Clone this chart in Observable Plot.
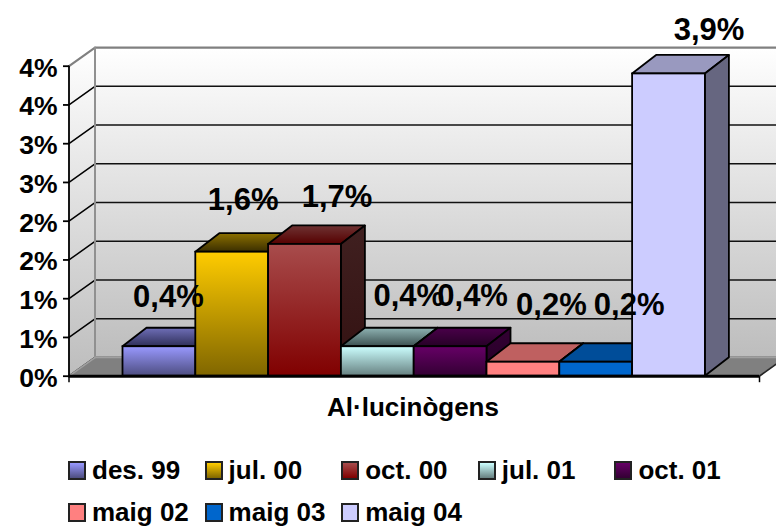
<!DOCTYPE html>
<html><head><meta charset="utf-8">
<script src="https://cdn.jsdelivr.net/npm/d3@7"></script>
<script src="https://cdn.jsdelivr.net/npm/@observablehq/plot@0.6"></script>
<style>
html,body{margin:0;padding:0;background:#fff;overflow:hidden}
#chart svg{display:block}
#legend{display:flex;flex-wrap:wrap;width:708px;padding-left:68px;margin-top:4px;font:bold 26px "Liberation Sans",Arial,sans-serif;color:#000}
.item{width:136.6px;height:42px;display:flex;align-items:center;white-space:nowrap}
.sw{width:14px;height:15px;border:2px solid #222;margin-right:6px;flex:none}
</style></head><body>
<div id="chart"></div><div id="legend"></div>
<script>
const periods = ["des. 99","jul. 00","oct. 00","jul. 01","oct. 01","maig 02","maig 03","maig 04"];
const heights = [0.38,1.6,1.7,0.38,0.38,0.18,0.18,3.9];
const labels = ["0,4%","1,6%","1,7%","0,4%","0,4%","0,2%","0,2%","3,9%"];
const yTicks = [0,0.5,1,1.5,2,2.5,3,3.5,4];
const yTickLabels = ["0%","1%","1%","2%","2%","3%","3%","4%","4%"];
const axisTitle = "Al·lucinògens";

// [front top, front bottom, top face back, top face front, side top, side bottom]
const palette = [
 ["#9999ff","#4d4d80","#6f6fb8","#2f2f58","#33335a","#262644"],
 ["#ffcc00","#806600","#8c7000","#3a2e00","#5c4a00","#403300"],
 ["#a84c4c","#800000","#6e3333","#560000","#402020","#331111"],
 ["#ccffff","#668080","#8fb3b3","#3c5050","#4c6060","#334040"],
 ["#660066","#330033","#4a004a","#260026","#330033","#260026"],
 ["#ff8080","#ff8080","#bf6060","#bf6060","#804040","#804040"],
 ["#0066cc","#0066cc","#004d99","#004d99","#003366","#003366"],
 ["#ccccff","#ccccff","#9999bf","#9999bf","#666680","#666680"]
];

// layout, in scale units (a bar is one unit wide; y is in percent)
const W = 776, H = 445;
const pxX = 72.8, pxY = 77.5, originX = 122.5, originY = 375.7;
const depthX = 24/pxX, depthY = 18.5/pxY;
const wallDX = 26/pxX;
const left = (68.5-originX)/pxX, right = (759-originX)/pxX;
const top4 = 4;
// hand-placed labels as in the source, pixel offsets from each bar's centre / front top
const labelDX = [9,11,32,31,22,28,33,40];
const labelDY = [-50,-52,-47,-51,-51,-57,-57,-44];

const faces = periods.map((p,i)=>({i,v:heights[i],c:palette[i]}));

const defs = () => {
  const d = d3.create("svg:defs");
  const grad = (id,a,b) => {
    const g = d.append("linearGradient").attr("id",id).attr("x1",0).attr("y1",0).attr("x2",0).attr("y2",1);
    g.append("stop").attr("offset","0%").attr("stop-color",a);
    g.append("stop").attr("offset","100%").attr("stop-color",b);
  };
  grad("wall","#ffffff","#bdbdbd");
  faces.forEach(f=>{
    grad("front"+f.i,f.c[0],f.c[1]);
    grad("top"+f.i,f.c[2],f.c[3]);
    grad("side"+f.i,f.c[4],f.c[5]);
  });
  return d.node();
};

const barMarks = faces.flatMap(f=>{
  const {i,v} = f;
  return [
    Plot.areaX([{y:v,a:i,b:i+1},{y:v+depthY,a:i+depthX,b:i+1+depthX}],
      {y:"y",x1:"a",x2:"b",fill:`url(#top${i})`,stroke:"#000",strokeWidth:1.8}),
    Plot.areaY([{x:i+1,a:0,b:v},{x:i+1+depthX,a:depthY,b:v+depthY}],
      {x:"x",y1:"a",y2:"b",fill:`url(#side${i})`,stroke:"#000",strokeWidth:1.8}),
    Plot.rect([{x1:i,x2:i+1,y1:0,y2:v}],
      {x1:"x1",x2:"x2",y1:"y1",y2:"y2",fill:`url(#front${i})`,stroke:"#000",strokeWidth:1.8})
  ];
});

const wallDY = 18.6/pxY, wallTop = top4;
const plot = Plot.plot({
  width:W,height:H,margin:0,
  x:{domain:[(0-originX)/pxX,(W-originX)/pxX],range:[0,W],axis:null},
  y:{domain:[(originY-H)/pxY,originY/pxY],range:[H,0],axis:null},
  style:{background:"#fff",fontFamily:'"Liberation Sans",Arial,sans-serif'},
  marks:[
    defs,
    // back wall
    Plot.rect([{}],{x1:left+wallDX,x2:right+wallDX,y1:wallDY,y2:wallTop+wallDY,fill:"url(#wall)"}),
    // left wall
    Plot.areaY([{x:left,a:0,b:wallTop},{x:left+wallDX,a:wallDY,b:wallTop+wallDY}],
      {x:"x",y1:"a",y2:"b",fill:"url(#wall)"}),
    // floor
    Plot.areaX([{y:0,a:left,b:right},{y:wallDY,a:left+wallDX,b:right+wallDX}],
      {y:"y",x1:"a",x2:"b",fill:"#808080",stroke:"#555",strokeWidth:1}),
    // gridlines on the back wall and left wall
    Plot.ruleY(yTicks.slice(1,-1),{y:d=>d+wallDY,x1:left+wallDX,x2:right+wallDX,stroke:"#111",strokeWidth:1.5}),
    ...yTicks.slice(1,-1).map(t=>Plot.line([[left,t],[left+wallDX,t+wallDY]],{stroke:"#000",strokeWidth:1.5})),
    // grey frame
    Plot.line([[left,wallTop],[left+wallDX,wallTop+wallDY],[right+wallDX,wallTop+wallDY]],{stroke:"#808080",strokeWidth:2.2}),
    Plot.line([[left+wallDX,wallDY],[left+wallDX,wallTop+wallDY]],{stroke:"#909090",strokeWidth:2}),
    Plot.ruleY([wallDY],{x1:left+wallDX,x2:right+wallDX,stroke:"#a0a0a0",strokeWidth:1.5}),
    Plot.line([[left,0],[left+wallDX,wallDY]],{stroke:"#a0a0a0",strokeWidth:1.5}),
    Plot.line([[right,0],[right+wallDX,wallDY]],{stroke:"#222",strokeWidth:1.5}),
    ...barMarks,
    // axes
    Plot.ruleX([left],{y1:0,y2:wallTop,stroke:"#000",strokeWidth:1.8}),
    Plot.link(yTicks,{x1:left-6/pxX,x2:left,y1:d=>d,y2:d=>d,stroke:"#000",strokeWidth:1.8}),
    Plot.ruleY([0],{x1:left,x2:right,stroke:"#000",strokeWidth:3}),
    Plot.link([left,right],{x1:d=>d,x2:d=>d,y1:0,y2:-6/pxY,stroke:"#000",strokeWidth:1.5}),
    Plot.text(yTicks,{x:left-11.5/pxX,y:d=>d-2/pxY,text:(d,i)=>yTickLabels[i],textAnchor:"end",fontSize:26.5,fontWeight:"bold",fill:"#000"}),
    Plot.text([axisTitle],{x:(412.5-originX)/pxX,y:(originY-407)/pxY,text:d=>d,fontSize:26,fontWeight:"bold",fill:"#000"}),
    // value labels
    Plot.text(faces,{
      x:f=>f.i+0.5+labelDX[f.i]/pxX,
      y:f=>f.v-labelDY[f.i]/pxY,
      text:f=>labels[f.i],fontSize:31,fontWeight:"bold",fill:"#000"})
  ]
});
document.getElementById("chart").append(plot);

const lg = d3.select("#legend");
periods.forEach((p,i)=>{
  const it = lg.append("div").attr("class","item");
  it.append("span").attr("class","sw").style("background",`linear-gradient(${palette[i][0]},${palette[i][1]})`);
  it.append("span").text(p);
});
</script>
</body></html>
